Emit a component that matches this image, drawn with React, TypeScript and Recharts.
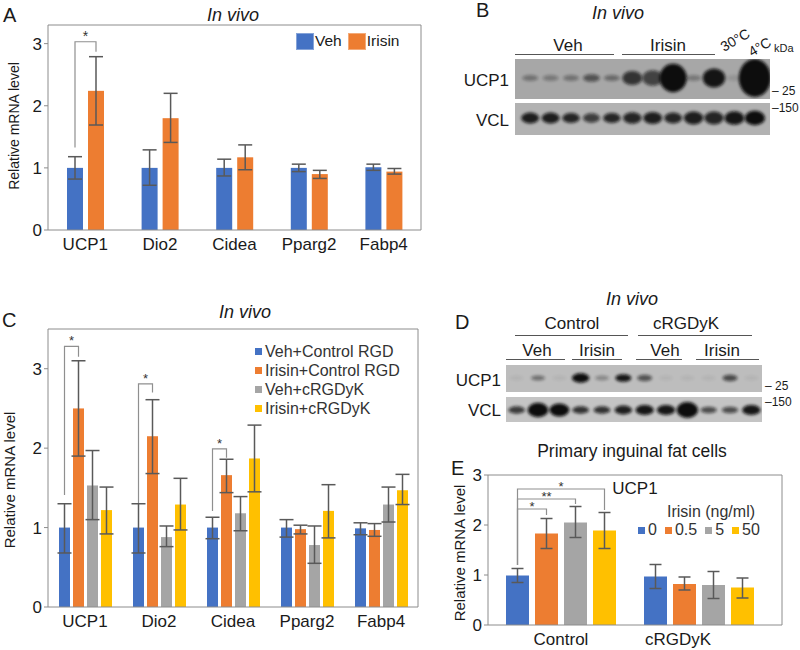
import React from 'react';
import { BarChart, Bar, XAxis, YAxis, ErrorBar, Legend } from 'recharts';

const FONT = '"Liberation Sans", Arial, Helvetica, sans-serif';
const BLUE = '#4472C4';
const ORANGE = '#ED7D31';
const GREY = '#A5A5A5';
const YELLOW = '#FFC000';
const AXIS = '#8c8c8c';
const ERR = '#595959';
const TXT = '#1a1a1a';

// ---------- Panel A ----------
const genesA = ['UCP1', 'Dio2', 'Cidea', 'Pparg2', 'Fabp4'];
const vehA = [1.0, 1.0, 1.0, 1.0, 1.01];
const vehALow = [0.82, 0.72, 0.87, 0.94, 0.96];
const vehAHigh = [1.18, 1.29, 1.14, 1.06, 1.06];
const irisinA = [2.24, 1.8, 1.17, 0.9, 0.94];
const irisinALow = [1.69, 1.41, 0.97, 0.83, 0.9];
const irisinAHigh = [2.79, 2.2, 1.37, 0.96, 0.99];
const ticksA = [0, 1, 2, 3];

// ---------- Panel C ----------
const genesC = ['UCP1', 'Dio2', 'Cidea', 'Pparg2', 'Fabp4'];
const vehCtrlC = [1.0, 1.0, 1.0, 1.0, 0.99];
const vehCtrlCLow = [0.68, 0.68, 0.86, 0.88, 0.91];
const vehCtrlCHigh = [1.3, 1.3, 1.13, 1.1, 1.06];
const irisinCtrlC = [2.5, 2.15, 1.66, 0.98, 0.97];
const irisinCtrlCLow = [1.9, 1.68, 1.44, 0.92, 0.89];
const irisinCtrlCHigh = [3.1, 2.61, 1.86, 1.03, 1.05];
const vehRgdC = [1.53, 0.88, 1.18, 0.78, 1.29];
const vehRgdCLow = [1.1, 0.76, 0.96, 0.55, 1.07];
const vehRgdCHigh = [1.97, 1.02, 1.39, 1.02, 1.51];
const irisinRgdC = [1.22, 1.29, 1.87, 1.21, 1.47];
const irisinRgdCLow = [0.92, 0.97, 1.45, 0.87, 1.29];
const irisinRgdCHigh = [1.51, 1.62, 2.29, 1.54, 1.67];
const ticksC = [0, 1, 2, 3];

// ---------- Panel E ----------
const groupsE = ['Control', 'cRGDyK'];
const dose0 = [0.99, 0.97];
const dose0Low = [0.85, 0.73];
const dose0High = [1.13, 1.21];
const dose05 = [1.83, 0.82];
const dose05Low = [1.53, 0.7];
const dose05High = [2.13, 0.96];
const dose5 = [2.05, 0.8];
const dose5Low = [1.75, 0.53];
const dose5High = [2.37, 1.07];
const dose50 = [1.89, 0.75];
const dose50Low = [1.53, 0.54];
const dose50High = [2.25, 0.94];
const ticksE = [0, 1, 2, 3];

// ---------- Significance brackets (data units) ----------
type Br = { cat: number; from: number; to: number; top: number; leftBottom: number; rightBottom: number; label: string };
const bracketsA: Br[] = [{ cat: 0, from: 0, to: 1, top: 3.03, leftBottom: 1.33, rightBottom: 2.87, label: '*' }];
const bracketsC: Br[] = [
  { cat: 0, from: 0, to: 1, top: 3.28, leftBottom: 1.41, rightBottom: 3.15, label: '*' },
  { cat: 1, from: 0, to: 1, top: 2.81, leftBottom: 1.31, rightBottom: 2.7, label: '*' },
  { cat: 2, from: 0, to: 1, top: 1.99, leftBottom: 1.21, rightBottom: 1.88, label: '*' },
];
const bracketsE: Br[] = [
  { cat: 0, from: 0, to: 1, top: 2.32, leftBottom: 1.2, rightBottom: 2.2, label: '*' },
  { cat: 0, from: 0, to: 2, top: 2.52, leftBottom: 1.2, rightBottom: 2.42, label: '**' },
  { cat: 0, from: 0, to: 3, top: 2.72, leftBottom: 1.2, rightBottom: 2.3, label: '*' },
];

// ---------- Western blot band intensities (0..1) and spread ----------
const blotB_UCP1 = [0.35, 0.3, 0.35, 0.55, 0.4, 0.75, 0.65, 1.0, 0.3, 0.95, 0.12, 1.0];
const blotB_UCP1Spread = [0, 0, 0, 0.05, 0, 0.25, 0.3, 0.7, 0, 0.4, 0, 1.0];
const blotB_VCL = [0.9, 0.9, 0.85, 0.7, 0.85, 0.85, 0.9, 0.85, 0.9, 0.85, 0.95, 1.0];
const blotB_VCLSpread = [0.2, 0.2, 0.15, 0.1, 0.15, 0.25, 0.3, 0.2, 0.35, 0.35, 0.4, 0.45];
const blotD_UCP1 = [0.05, 0.45, 0.05, 1.0, 0.3, 0.95, 0.6, 0.05, 0.05, 0.05, 0.65, 0.05];
const blotD_UCP1Spread = [0, 0, 0, 0.35, 0, 0.2, 0.1, 0, 0, 0, 0.1, 0];
const blotD_VCL = [0.75, 1, 1, 0.8, 0.8, 0.9, 0.95, 0.95, 1, 0.65, 0.65, 0.95];
const blotD_VCLSpread = [0.1, 0.6, 0.5, 0.1, 0.1, 0.2, 0.3, 0.3, 0.7, 0.05, 0.05, 0.3];

type Series = { key: string; name: string; color: string; v: number[]; lo: number[]; hi: number[] };

const seriesA: Series[] = [
  { key: 'veh', name: 'Veh', color: BLUE, v: vehA, lo: vehALow, hi: vehAHigh },
  { key: 'irisin', name: 'Irisin', color: ORANGE, v: irisinA, lo: irisinALow, hi: irisinAHigh },
];
const seriesC: Series[] = [
  { key: 'vc', name: 'Veh+Control RGD', color: BLUE, v: vehCtrlC, lo: vehCtrlCLow, hi: vehCtrlCHigh },
  { key: 'ic', name: 'Irisin+Control RGD', color: ORANGE, v: irisinCtrlC, lo: irisinCtrlCLow, hi: irisinCtrlCHigh },
  { key: 'vr', name: 'Veh+cRGDyK', color: GREY, v: vehRgdC, lo: vehRgdCLow, hi: vehRgdCHigh },
  { key: 'ir', name: 'Irisin+cRGDyK', color: YELLOW, v: irisinRgdC, lo: irisinRgdCLow, hi: irisinRgdCHigh },
];
const seriesE: Series[] = [
  { key: 'd0', name: '0', color: BLUE, v: dose0, lo: dose0Low, hi: dose0High },
  { key: 'd05', name: '0.5', color: ORANGE, v: dose05, lo: dose05Low, hi: dose05High },
  { key: 'd5', name: '5', color: GREY, v: dose5, lo: dose5Low, hi: dose5High },
  { key: 'd50', name: '50', color: YELLOW, v: dose50, lo: dose50Low, hi: dose50High },
];

function buildTable(cats: string[], series: Series[]) {
  return cats.map((c, i) => {
    const row: any = { cat: c };
    series.forEach((s) => {
      row[s.key] = s.v[i];
      row[s.key + 'Err'] = [+(s.v[i] - s.lo[i]).toFixed(3), +(s.hi[i] - s.v[i]).toFixed(3)];
    });
    return row;
  });
}

const dataA = buildTable(genesA, seriesA);
const dataC = buildTable(genesC, seriesC);
const dataE = buildTable(groupsE, seriesE);

function makeShape(seriesIdx: number, brackets: Br[], gap: number, key: string, starDy: number, starSize: number) {
  return (props: any) => {
    const { x, y, width, height, fill, index, payload } = props;
    const v = payload ? payload[key] : 0;
    const els: any[] = [<rect key="r" x={x} y={y} width={width} height={height} fill={fill} />];
    if (v > 0 && height > 0) {
      const base = y + height;
      const k = height / v;
      const ty = (val: number) => base - val * k;
      brackets
        .filter((b) => b.cat === index && b.to === seriesIdx)
        .forEach((b, j) => {
          const rx = x + width / 2;
          const lx = rx - (b.to - b.from) * (width + gap);
          els.push(
            <path
              key={'b' + j}
              d={`M${lx},${ty(b.leftBottom)}V${ty(b.top)}H${rx}V${ty(b.rightBottom)}`}
              fill="none"
              stroke="#8f8f8f"
              strokeWidth={1.2}
            />
          );
          els.push(
            <text key={'t' + j} x={(lx + rx) / 2} y={ty(b.top) + starDy} textAnchor="middle" fontSize={starSize} fontFamily={FONT} fill="#333">
              {b.label}
            </text>
          );
        });
    }
    return <g>{els}</g>;
  };
}

const legendA = () => (
  <div style={{ display: 'flex', alignItems: 'center', fontFamily: FONT, fontSize: 15.5, color: TXT, whiteSpace: 'nowrap' }}>
    {seriesA.map((e, i) => (
      <div key={i} style={{ display: 'flex', alignItems: 'center', marginRight: 6 }}>
        <span style={{ display: 'inline-block', width: 18, height: 17, background: e.color, boxShadow: 'inset 0 0 0 1px rgba(255,255,255,0.35)', marginRight: 1 }} />
        <span>{e.name}</span>
      </div>
    ))}
  </div>
);

const legendC = () => (
  <div style={{ fontFamily: FONT, fontSize: 16, color: '#333', whiteSpace: 'nowrap', lineHeight: '19px' }}>
    {seriesC.map((e, i) => (
      <div key={i} style={{ display: 'flex', alignItems: 'center' }}>
        <span style={{ display: 'inline-block', width: 7, height: 7, background: e.color, marginRight: 3 }} />
        <span>{e.name}</span>
      </div>
    ))}
  </div>
);

const legendE = () => (
  <div style={{ fontFamily: FONT, fontSize: 16, color: '#333', whiteSpace: 'nowrap', lineHeight: '18px' }}>
    <div style={{ paddingLeft: 29 }}>Irisin (ng/ml)</div>
    <div style={{ display: 'flex', alignItems: 'center' }}>
      {seriesE.map((e, i) => (
        <div key={i} style={{ display: 'flex', alignItems: 'center', marginRight: 8 }}>
          <span style={{ display: 'inline-block', width: 7, height: 7, background: e.color, marginRight: 3 }} />
          <span>{e.name}</span>
        </div>
      ))}
    </div>
  </div>
);

const ETick = (p: any) => (
  <text x={p.x + (p.index === 1 ? -21 : 0)} y={p.y} dy="0.71em" textAnchor="middle" fontSize={17} fontFamily={FONT} fill={TXT}>
    {p.payload.value}
  </text>
);

function Blot(props: { x0: number; x1: number; y0: number; y1: number; lx0: number; lx1: number; bg: string; cy: number; vals: number[]; spread: number[]; rx0: number; rxk: number; ry0: number; ryk: number; id: string }) {
  const { x0, x1, y0, y1, lx0, lx1, bg, cy, vals, spread, rx0, rxk, ry0, ryk, id } = props;
  const w = (lx1 - lx0) / vals.length;
  return (
    <g>
      <defs>
        <clipPath id={id}>
          <rect x={x0} y={y0} width={x1 - x0} height={y1 - y0} />
        </clipPath>
      </defs>
      <rect x={x0} y={y0} width={x1 - x0} height={y1 - y0} fill={bg} />
      <g clipPath={`url(#${id})`}>
        {vals.map((v, i) => (
          <ellipse
            key={i}
            cx={lx0 + w * (i + 0.5)}
            cy={cy}
            rx={rx0 + rxk * spread[i]}
            ry={ry0 + ryk * spread[i]}
            fill="#0b0b0b"
            opacity={v}
            filter="url(#blotblur)"
          />
        ))}
      </g>
    </g>
  );
}

const T = (p: any) => <text fontFamily={FONT} fill={TXT} {...p} />;

export default function App() {
  return (
    <div style={{ position: 'absolute', left: 0, top: 0, width: 800, height: 650, background: '#fff', fontFamily: FONT, overflow: 'hidden' }}>
      {/* Panel A */}
      <div style={{ position: 'absolute', left: 0, top: 0 }}>
        <BarChart width={430} height={260} data={dataA} margin={{ top: 25, right: 9, bottom: 0, left: 18 }} barGap={5} barSize={16}>
          <XAxis dataKey="cat" height={30} tickLine={false} axisLine={{ stroke: AXIS }} interval={0} tick={{ fontSize: 17, fill: TXT, fontFamily: FONT }} />
          <YAxis domain={[0, 3.3]} ticks={ticksA} width={30} tickSize={4} allowDataOverflow axisLine={{ stroke: AXIS }} tickLine={{ stroke: AXIS }} tick={{ fontSize: 17, fill: TXT, fontFamily: FONT }} />
          {seriesA.map((s, i) => (
            <Bar key={s.key} dataKey={s.key} name={s.name} fill={s.color} isAnimationActive={false} shape={makeShape(i, bracketsA, 5, s.key, -1, 14)}>
              <ErrorBar dataKey={s.key + 'Err'} width={7} stroke={ERR} strokeWidth={1.5} direction="y" />
            </Bar>
          ))}
          <Legend layout="horizontal" verticalAlign="middle" align="center" content={legendA} wrapperStyle={{ left: 296, top: 32, width: 'auto', height: 'auto' }} />
        </BarChart>
      </div>

      {/* Panel C */}
      <div style={{ position: 'absolute', left: 0, top: 290 }}>
        <BarChart width={430} height={360} data={dataC} margin={{ top: 39, right: 12, bottom: 13, left: 18 }} barGap={3} barSize={11}>
          <XAxis dataKey="cat" height={30} tickLine={false} axisLine={{ stroke: AXIS }} interval={0} tick={{ fontSize: 17, fill: TXT, fontFamily: FONT }} />
          <YAxis domain={[0, 3.5]} ticks={ticksC} width={30} tickSize={4} allowDataOverflow axisLine={{ stroke: AXIS }} tickLine={{ stroke: AXIS }} tick={{ fontSize: 17, fill: TXT, fontFamily: FONT }} />
          {seriesC.map((s, i) => (
            <Bar key={s.key} dataKey={s.key} name={s.name} fill={s.color} isAnimationActive={false} shape={makeShape(i, bracketsC, 3, s.key, -1, 13)}>
              <ErrorBar dataKey={s.key + 'Err'} width={7} stroke={ERR} strokeWidth={1.5} direction="y" />
            </Bar>
          ))}
          <Legend layout="horizontal" verticalAlign="middle" align="center" content={legendC} wrapperStyle={{ left: 255, top: 52, width: 'auto', height: 'auto' }} />
        </BarChart>
      </div>

      {/* Panel E */}
      <div style={{ position: 'absolute', left: 420, top: 440 }}>
        <BarChart width={380} height={210} data={dataE} margin={{ top: 35, right: 18, bottom: 0, left: 38 }} barGap={6} barSize={23}>
          <XAxis dataKey="cat" height={25} tickLine={false} axisLine={{ stroke: AXIS }} interval={0} padding={{ left: 4, right: 14 }} tick={ETick} />
          <YAxis domain={[0, 3]} ticks={ticksE} width={30} tickSize={4} allowDataOverflow axisLine={{ stroke: AXIS }} tickLine={{ stroke: AXIS }} tick={{ fontSize: 17, fill: TXT, fontFamily: FONT }} />
          {seriesE.map((s, i) => (
            <Bar key={s.key} dataKey={s.key} name={s.name} fill={s.color} isAnimationActive={false} shape={makeShape(i, bracketsE, 6, s.key, 2, 13)}>
              <ErrorBar dataKey={s.key + 'Err'} width={6} stroke={ERR} strokeWidth={1.5} direction="y" />
            </Bar>
          ))}
          <Legend layout="horizontal" verticalAlign="middle" align="center" content={legendE} wrapperStyle={{ left: 218, top: 63, width: 'auto', height: 'auto' }} />
        </BarChart>
      </div>

      {/* Overlay: frames, titles, blots */}
      <svg width={800} height={650} style={{ position: 'absolute', left: 0, top: 0, pointerEvents: 'none' }}>
        <defs>
          <filter id="blotblur" x="-50%" y="-50%" width="200%" height="200%">
            <feGaussianBlur stdDeviation="1.6" />
          </filter>
        </defs>
        {/* frames */}
        <path d="M48,25H421V230" fill="none" stroke={AXIS} strokeWidth={1} />
        <path d="M48,329H418V607" fill="none" stroke={AXIS} strokeWidth={1} />
        <path d="M488,475H782V625" fill="none" stroke={AXIS} strokeWidth={1} />

        {/* Panel A texts */}
        <T x={3} y={22} fontSize={20}>A</T>
        <T x={233} y={21} fontSize={18} fontStyle="italic" textAnchor="middle">In vivo</T>
        <T x={19} y={126} fontSize={14} textAnchor="middle" transform="rotate(-90 19 126)">Relative mRNA level</T>

        {/* Panel B */}
        <T x={476} y={17} fontSize={20}>B</T>
        <T x={618} y={19} fontSize={18} fontStyle="italic" textAnchor="middle">In vivo</T>
        <T x={568} y={51} fontSize={17} textAnchor="middle">Veh</T>
        <T x={668} y={51} fontSize={17} textAnchor="middle">Irisin</T>
        <line x1={515} x2={614} y1={54.5} y2={54.5} stroke="#555" />
        <line x1={622} x2={715} y1={54.5} y2={54.5} stroke="#555" />
        <T x={724} y={52} fontSize={14} transform="rotate(-30 724 52)">30°C</T>
        <T x={752} y={57} fontSize={14} transform="rotate(-30 752 57)">4°C</T>
        <T x={774} y={52} fontSize={11}>kDa</T>
        <T x={509} y={86} fontSize={17} textAnchor="end">UCP1</T>
        <T x={509} y={126} fontSize={17} textAnchor="end">VCL</T>
        <Blot id="cb1" x0={515} x1={770} y0={59} y1={99} lx0={520} lx1={765} bg="#a7a7a7" cy={78} vals={blotB_UCP1} spread={blotB_UCP1Spread} rx0={8} rxk={8} ry0={3} ryk={16} />
        <Blot id="cb2" x0={515} x1={770} y0={103} y1={135} lx0={520} lx1={765} bg="#b2b2b2" cy={118} vals={blotB_VCL} spread={blotB_VCLSpread} rx0={8} rxk={5} ry0={4} ryk={7} />
        <T x={772} y={95} fontSize={12}>– 25</T>
        <T x={772} y={112} fontSize={12}>–150</T>

        {/* Panel C texts */}
        <T x={2} y={327} fontSize={20}>C</T>
        <T x={245} y={318} fontSize={18} fontStyle="italic" textAnchor="middle">In vivo</T>
        <T x={15} y={480} fontSize={15} textAnchor="middle" transform="rotate(-90 15 480)">Relative mRNA level</T>

        {/* Panel D */}
        <T x={632} y={305} fontSize={18} fontStyle="italic" textAnchor="middle">In vivo</T>
        <T x={455} y={329} fontSize={20}>D</T>
        <T x={572} y={329} fontSize={17} textAnchor="middle">Control</T>
        <T x={686} y={329} fontSize={17} textAnchor="middle">cRGDyK</T>
        <line x1={515} x2={628} y1={335.5} y2={335.5} stroke="#555" />
        <line x1={638} x2={752} y1={335.5} y2={335.5} stroke="#555" />
        <T x={537} y={356} fontSize={17} textAnchor="middle">Veh</T>
        <T x={597} y={356} fontSize={17} textAnchor="middle">Irisin</T>
        <T x={665} y={356} fontSize={17} textAnchor="middle">Veh</T>
        <T x={722} y={356} fontSize={17} textAnchor="middle">Irisin</T>
        <line x1={506} x2={565} y1={359.5} y2={359.5} stroke="#555" />
        <line x1={572} x2={622} y1={359.5} y2={359.5} stroke="#555" />
        <line x1={636} x2={682} y1={359.5} y2={359.5} stroke="#555" />
        <line x1={696} x2={759} y1={359.5} y2={359.5} stroke="#555" />
        <T x={501} y={386} fontSize={17} textAnchor="end">UCP1</T>
        <T x={501} y={416} fontSize={17} textAnchor="end">VCL</T>
        <Blot id="cd1" x0={506} x1={762} y0={365} y1={392} lx0={506} lx1={762} bg="#bdbdbd" cy={378} vals={blotD_UCP1} spread={blotD_UCP1Spread} rx0={7} rxk={5} ry0={2.6} ryk={6} />
        <Blot id="cd2" x0={506} x1={762} y0={397} y1={422} lx0={506} lx1={762} bg="#c4c4c4" cy={410} vals={blotD_VCL} spread={blotD_VCLSpread} rx0={8} rxk={4} ry0={3} ryk={7} />
        <T x={765} y={390} fontSize={12}>– 25</T>
        <T x={765} y={406} fontSize={12}>–150</T>

        {/* Panel E texts */}
        <T x={451} y={475} fontSize={20}>E</T>
        <T x={632} y={457} fontSize={17.5} textAnchor="middle">Primary inguinal fat cells</T>
        <T x={635} y={494} fontSize={17} textAnchor="middle">UCP1</T>
        <T x={465} y={553} fontSize={15} textAnchor="middle" transform="rotate(-90 465 553)">Relative mRNA level</T>
      </svg>
    </div>
  );
}
